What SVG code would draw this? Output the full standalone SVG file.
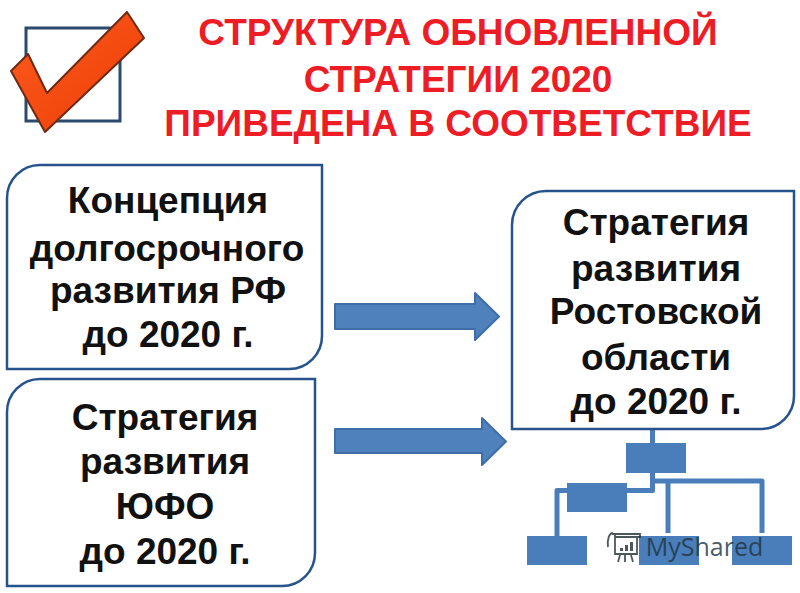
<svg xmlns="http://www.w3.org/2000/svg" width="800" height="593" viewBox="0 0 800 593">
<style>
text{font-family:"Liberation Sans",Arial,sans-serif;font-weight:700;text-anchor:middle}
.t{fill:#ee1c25;font-size:37px}
.b{fill:#111;font-size:37px}
.box{fill:#fff;stroke:#26538c;stroke-width:2.5}
.arrow{fill:#4f81bd;stroke:#3f6ea6;stroke-width:2;stroke-linejoin:round}
.org{fill:#4a7ebb}
.conn{fill:none;stroke:#4a7ebb;stroke-width:5;stroke-linejoin:round}
</style>
<defs><linearGradient id="chk" x1="0" y1="0" x2="1" y2="1"><stop offset="0" stop-color="#fb5a1e"/><stop offset="1" stop-color="#ee3e06"/></linearGradient></defs>
<rect width="800" height="593" fill="#fff"/>
<g id="checkbox">
<rect x="26" y="28" width="94" height="93" fill="#fff" stroke="#2a4a6e" stroke-width="3"/>
<path d="M127 12L144 38L45 132L11 71L28 54L47 93Z" fill="url(#chk)" stroke="#6e2a12" stroke-width="2" stroke-linejoin="round"/>
</g>
<g id="title">
<text class="t" x="458" y="45">СТРУКТУРА ОБНОВЛЕННОЙ</text>
<text class="t" x="458" y="92">СТРАТЕГИИ 2020</text>
<text class="t" x="458" y="136">ПРИВЕДЕНА В СООТВЕТСТВИЕ</text>
</g>
<g id="connectors">
<path class="conn" d="M652.5 429V490.5H557V536"/>
<path class="conn" d="M652.500 481H762V533"/>
<path class="conn" d="M668 481V533"/>
<path class="arrow" d="M335 304H475V293L499 316.500L475 340V329H335Z"/>
<path class="arrow" d="M335 429H482V418L506 441.500L482 465V453H335Z"/>
</g>
<g id="node-concept">
<path class="box" d="M40 165H322V336A33 33 0 0 1 289 369H7V198A33 33 0 0 1 40 165Z"/>
<text class="b" x="168" y="213">Концепция</text>
<text class="b" x="167" y="261">долгосрочного</text>
<text class="b" x="168" y="303">развития РФ</text>
<text class="b" x="168" y="347">до 2020 г.</text>
</g>
<g id="node-yufo">
<path class="box" d="M40 379H315V553A33 33 0 0 1 282 586H7V412A33 33 0 0 1 40 379Z"/>
<text class="b" x="165" y="430">Стратегия</text>
<text class="b" x="165" y="474">развития</text>
<text class="b" x="165" y="519">ЮФО</text>
<text class="b" x="165" y="564">до 2020 г.</text>
</g>
<g id="node-rostov">
<path class="box" d="M546 191H794V396A33 33 0 0 1 761 429H512V225A34 34 0 0 1 546 191Z"/>
<text class="b" x="656" y="235">Стратегия</text>
<text class="b" x="656" y="281">развития</text>
<text class="b" x="656" y="324">Ростовской</text>
<text class="b" x="656" y="370">области</text>
<text class="b" x="656" y="414">до 2020 г.</text>
</g>
<g id="org-top"><rect class="org" x="626" y="443" width="60" height="30"/></g>
<g id="org-mid"><rect class="org" x="567" y="483" width="60" height="29"/></g>
<g id="org-left"><rect class="org" x="527" y="536" width="60" height="29"/></g>
<g id="org-center"><rect class="org" x="639" y="536" width="60" height="29"/></g>
<g id="org-right"><rect class="org" x="732" y="536" width="60" height="29"/></g>
<g id="watermark" opacity="0.8">
<path d="M612 534H640V537H615M615 534V554H637V537M608 547C607 540 609 533 613 533M618 562L620 555M633 562L631 555M625 555V562" fill="none" stroke="#222f2f" stroke-width="1.800"/>
<rect x="620" y="548" width="3" height="3" fill="#222f2f"/><rect x="625" y="545" width="3" height="6" fill="#222f2f"/><rect x="630" y="542" width="3" height="9" fill="#222f2f"/>
<text x="704.500" y="556" style="font-family:'Open Sans',sans-serif;font-weight:400;font-size:25px;fill:#1f3540">MyShared</text>
</g>
</svg>
